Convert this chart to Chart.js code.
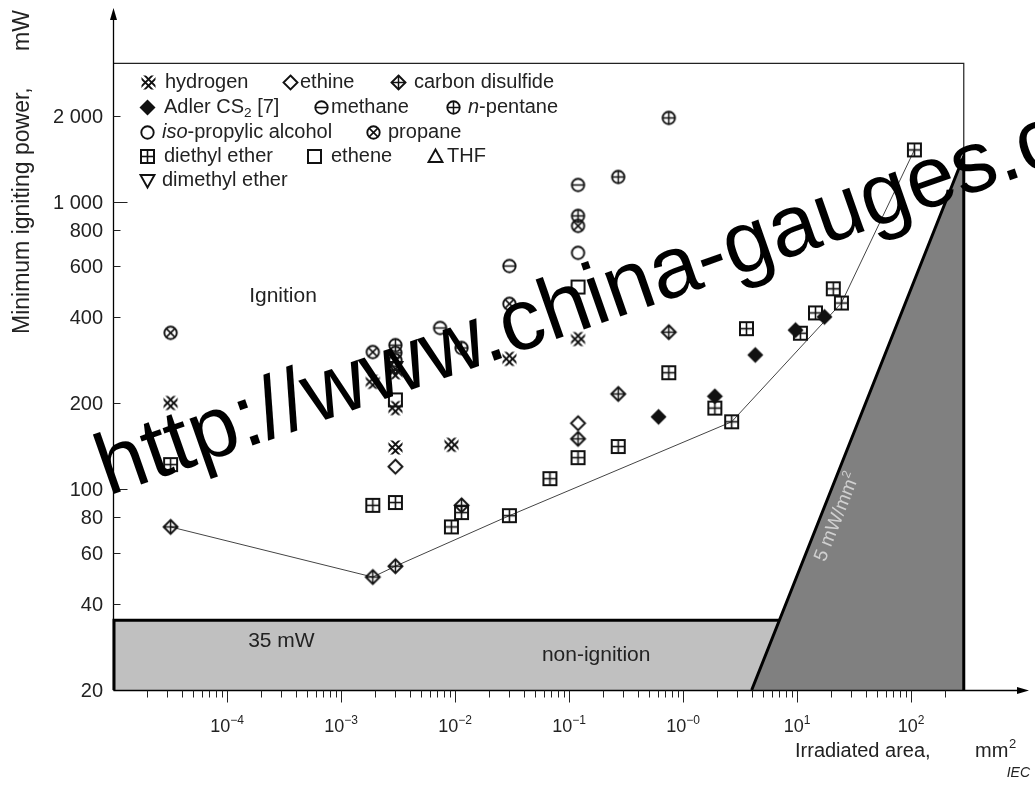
<!DOCTYPE html>
<html><head><meta charset="utf-8">
<script src="https://cdn.jsdelivr.net/npm/chart.js@4.4.1/dist/chart.umd.min.js"></script>
<style>html,body{margin:0;padding:0;background:#fff;}#wrap{position:relative;width:1035px;height:785px;}</style>
</head><body><div id="wrap"><canvas id="c" width="1035" height="785"></canvas></div>
<script>
// ---------- data (irradiated area mm², minimum igniting power mW) ----------
const yTicks = [20, 40, 60, 80, 100, 200, 400, 600, 800, 1000, 2000];
const yTickLabels = ['20', '40', '60', '80', '100', '200', '400', '600', '800', '1 000', '2 000'];
const xDecades = [-4, -3, -2, -1, 0, 1, 2];
const xTickLabels = ['\u22124', '\u22123', '\u22122', '\u22121', '\u22120', '1', '2'];
const hydrogen = [[3.2e-5,200],[1.9e-3,237],[3.0e-3,256],[3.0e-3,192],[3.0e-3,140],[9.3e-3,143],[0.030,285],[0.12,334]];
const ethine = [[3.0e-3,120],[0.12,170]];
const carbonDisulfide = [[3.2e-5,74],[1.9e-3,49.5],[3.0e-3,54],[1.14e-2,88],[0.12,150],[0.27,215],[0.75,353]];
const adlerCS2 = [[0.61,179],[1.9,211],[4.3,294],[9.7,359],[17.4,399]];
const methane = [[3.0e-3,299],[7.4e-3,365],[0.030,600],[0.12,1150]];
const nPentane = [[3.0e-3,318],[1.14e-2,311],[0.12,897],[0.27,1226],[0.75,1969]];
const isoPropylic = [[0.12,667]];
const propane = [[3.2e-5,351],[1.9e-3,301],[3.0e-3,282],[0.030,443],[0.12,828]];
const diethylEther = [[3.2e-5,122],[1.9e-3,88],[3.0e-3,90],[9.3e-3,74],[1.14e-2,83],[0.030,81],[0.068,109],[0.12,129],[0.27,141],[0.75,255],[1.9,192],[2.67,172],[3.6,363],[10.7,350],[14.5,412],[20.8,500],[24.5,446],[107,1523]];
const ethene = [[3.0e-3,205],[0.12,507]];
const thf = [[3.0e-3,272]];
const dimethylEther = [[3.0e-3,266]];
const boundary = [[3.2e-5,74],[1.9e-3,49.5],[3.0e-3,54],[0.030,81],[2.67,172],[24.5,446],[107,1523]];

// limits of the drawing
const X_MIN = 1e-5, X_MAX = 1040, Y_MIN = 20, Y_MAX = 4680;
const BOX_RIGHT = 290, BOX_TOP = 3050;
const LIMIT_POWER = 35;     // mW
const LIMIT_DENSITY = 5;    // mW/mm²

const FONT = "'Liberation Sans', Arial, Helvetica, sans-serif";

// ---------- marker images ----------
function mk(kind){
  const c = document.createElement('canvas'); c.width = 19; c.height = 19;
  const g = c.getContext('2d'); g.translate(9.5, 9.5);
  g.lineWidth = 1.9; g.strokeStyle = '#111'; g.fillStyle = '#111';
  const dia = (r)=>{g.beginPath(); g.moveTo(0,-r); g.lineTo(r,0); g.lineTo(0,r); g.lineTo(-r,0); g.closePath();};
  const circ = (r)=>{g.beginPath(); g.arc(0,0,r,0,Math.PI*2);};
  const line = (a,b,c2,d)=>{g.beginPath(); g.moveTo(a,b); g.lineTo(c2,d); g.stroke();};
  switch(kind){
    case 'dx':
      g.save(); g.beginPath(); g.rect(-7,-7,14,14); g.clip(); g.beginPath();
      for (const d of [-3.2,3.2]) { g.moveTo(-10,-10+d); g.lineTo(10,10+d); g.moveTo(-10,10+d); g.lineTo(10,-10+d); }
      g.stroke(); g.restore(); break;
    case 'diamond': dia(7); g.stroke(); break;
    case 'diamondPlus': dia(7); g.stroke(); g.lineWidth=1.5; line(0,-7,0,7); line(-7,0,7,0); break;
    case 'diamondFill': dia(8); g.fill(); break;
    case 'circleMinus': circ(6.2); g.stroke(); g.lineWidth=1.5; line(-6.2,0,6.2,0); break;
    case 'circlePlus': circ(6.2); g.stroke(); g.lineWidth=1.5; line(-6.2,0,6.2,0); line(0,-6.2,0,6.2); break;
    case 'circle': circ(6.2); g.stroke(); break;
    case 'circleX': circ(6.2); g.stroke(); g.lineWidth=1.6; line(-4.4,-4.4,4.4,4.4); line(-4.4,4.4,4.4,-4.4); break;
    case 'squarePlus': g.lineWidth=2; g.strokeRect(-6.5,-6.5,13,13); g.lineWidth=1.6; line(-6.5,0,6.5,0); line(0,-6.5,0,6.5); break;
    case 'square': g.lineWidth=2; g.strokeRect(-6.5,-6.5,13,13); break;
    case 'tri': g.beginPath(); g.moveTo(0,-7); g.lineTo(7,5.5); g.lineTo(-7,5.5); g.closePath(); g.stroke(); break;
    case 'triDown': g.beginPath(); g.moveTo(0,7); g.lineTo(7,-5.5); g.lineTo(-7,-5.5); g.closePath(); g.stroke(); break;
  }
  return c;
}

const series = [
  {label:'hydrogen', data:hydrogen, m:'dx'},
  {label:'ethine', data:ethine, m:'diamond'},
  {label:'carbon disulfide', data:carbonDisulfide, m:'diamondPlus'},
  {label:'Adler CS2 [7]', data:adlerCS2, m:'diamondFill'},
  {label:'methane', data:methane, m:'circleMinus'},
  {label:'n-pentane', data:nPentane, m:'circlePlus'},
  {label:'iso-propylic alcohol', data:isoPropylic, m:'circle'},
  {label:'propane', data:propane, m:'circleX'},
  {label:'diethyl ether', data:diethylEther, m:'squarePlus'},
  {label:'ethene', data:ethene, m:'square'},
  {label:'THF', data:thf, m:'tri'},
  {label:'dimethyl ether', data:dimethylEther, m:'triDown'}
];
const markers = {};
series.forEach(s => markers[s.label] = mk(s.m));

// legend layout: [series label, marker x, text x, row, text segments]
const legendRows = [82, 107, 132, 156, 180];
const legendItems = [
  ['hydrogen', 148, 165, 0, [{t:'hydrogen'}]],
  ['ethine', 290, 300, 0, [{t:'ethine'}]],
  ['carbon disulfide', 398, 414, 0, [{t:'carbon disulfide'}]],
  ['Adler CS2 [7]', 147, 164, 1, [{t:'Adler CS'},{t:'2',sub:true},{t:' [7]'}]],
  ['methane', 321, 331, 1, [{t:'methane'}]],
  ['n-pentane', 453, 468, 1, [{t:'n',it:true},{t:'-pentane'}]],
  ['iso-propylic alcohol', 147, 162, 2, [{t:'iso',it:true},{t:'-propylic alcohol'}]],
  ['propane', 373, 388, 2, [{t:'propane'}]],
  ['diethyl ether', 147, 164, 3, [{t:'diethyl ether'}]],
  ['ethene', 314, 331, 3, [{t:'ethene'}]],
  ['THF', 435, 447, 3, [{t:'THF'}]],
  ['dimethyl ether', 147, 162, 4, [{t:'dimethyl ether'}]]
];

function richText(ctx, segs, x, y, size){
  ctx.textBaseline = 'middle'; ctx.textAlign = 'left';
  for (const s of segs){
    const sz = s.sub ? size*0.68 : size;
    ctx.font = (s.it ? 'italic ' : '') + sz + 'px ' + FONT;
    ctx.fillText(s.t, x, s.sub ? y + size*0.3 : y);
    x += ctx.measureText(s.t).width;
  }
}

const deco = {
  id: 'deco',
  beforeDatasetsDraw(chart){
    const {ctx, scales:{x, y}, chartArea:ca} = chart;
    const X = v => x.getPixelForValue(v), Y = v => y.getPixelForValue(v);
    const xLow = LIMIT_POWER / LIMIT_DENSITY, xBase = Y_MIN / LIMIT_DENSITY;
    const topP = LIMIT_DENSITY * BOX_RIGHT;
    ctx.save();
    ctx.fillStyle = '#c0c0c0';
    ctx.beginPath(); ctx.moveTo(X(X_MIN), Y(Y_MIN)); ctx.lineTo(X(X_MIN), Y(LIMIT_POWER));
    ctx.lineTo(X(xLow), Y(LIMIT_POWER)); ctx.lineTo(X(xBase), Y(Y_MIN)); ctx.closePath(); ctx.fill();
    ctx.fillStyle = '#808080';
    ctx.beginPath(); ctx.moveTo(X(xBase), Y(Y_MIN)); ctx.lineTo(X(BOX_RIGHT), Y(topP)); ctx.lineTo(X(BOX_RIGHT), Y(Y_MIN)); ctx.closePath(); ctx.fill();
    ctx.strokeStyle = '#222'; ctx.lineWidth = 1.2;
    ctx.beginPath(); ctx.moveTo(X(X_MIN), Y(BOX_TOP)); ctx.lineTo(X(BOX_RIGHT), Y(BOX_TOP)); ctx.lineTo(X(BOX_RIGHT), Y(topP)); ctx.stroke();
    ctx.strokeStyle = '#000'; ctx.lineWidth = 3; ctx.lineCap = 'butt';
    ctx.beginPath(); ctx.moveTo(X(X_MIN)+1, Y(Y_MIN)); ctx.lineTo(X(X_MIN)+1, Y(LIMIT_POWER)); ctx.lineTo(X(xLow), Y(LIMIT_POWER)); ctx.stroke();
    ctx.beginPath(); ctx.moveTo(X(xBase), Y(Y_MIN)); ctx.lineTo(X(BOX_RIGHT), Y(topP)); ctx.lineTo(X(BOX_RIGHT), Y(Y_MIN)); ctx.stroke();
    // axes with arrows
    ctx.strokeStyle = '#000'; ctx.fillStyle = '#000'; ctx.lineWidth = 1.3;
    const x0 = Math.round(ca.left)+0.5, y0 = Math.round(ca.bottom)+0.5;
    ctx.beginPath(); ctx.moveTo(x0, y0); ctx.lineTo(x0, ca.top+6); ctx.moveTo(x0, y0); ctx.lineTo(ca.right-6, y0); ctx.stroke();
    ctx.beginPath(); ctx.moveTo(x0, ca.top-2); ctx.lineTo(x0-3.5, ca.top+10); ctx.lineTo(x0+3.5, ca.top+10); ctx.closePath(); ctx.fill();
    ctx.beginPath(); ctx.moveTo(ca.right+2, y0); ctx.lineTo(ca.right-10, y0-3.5); ctx.lineTo(ca.right-10, y0+3.5); ctx.closePath(); ctx.fill();
    // x tick marks
    ctx.lineWidth = 1; ctx.strokeStyle = '#222';
    for (let d = -5; d <= 2; d++) for (let m = 1; m <= 9; m++){
      const v = m * Math.pow(10, d);
      if (v <= X_MIN || v > BOX_RIGHT) continue;
      const px = Math.round(X(v)) + 0.5;
      ctx.beginPath(); ctx.moveTo(px, y0); ctx.lineTo(px, y0 + (m === 1 ? 12 : 7)); ctx.stroke();
    }
    // y tick marks (inside) and labels
    ctx.fillStyle = '#222'; ctx.font = '20px ' + FONT; ctx.textAlign = 'right'; ctx.textBaseline = 'middle';
    yTicks.forEach((v, i) => {
      const py = Math.round(Y(v)) + 0.5;
      if (v !== Y_MIN){ ctx.beginPath(); ctx.moveTo(x0, py); ctx.lineTo(x0 + ((v === 100 || v === 1000) ? 14 : 7), py); ctx.stroke(); }
      ctx.fillText(yTickLabels[i], 103, py + 1);
    });
    // region labels
    ctx.fillStyle = '#222'; ctx.textAlign = 'center'; ctx.textBaseline = 'middle';
    ctx.font = '21px ' + FONT;
    ctx.fillText('Ignition', X(3.1e-4), Y(472));
    ctx.fillText('35 mW', X(3.0e-4), Y(29.6));
    ctx.fillText('non-ignition', X(0.173), Y(26.5));
    const ang = Math.atan2(Y(topP) - Y(Y_MIN), X(BOX_RIGHT) - X(xBase));
    ctx.save(); ctx.translate(X(22), Y(78)); ctx.rotate(ang);
    ctx.fillStyle = '#d0d0d0'; ctx.font = '19px ' + FONT;
    ctx.fillText('5 mW/mm', 0, 0);
    const w = ctx.measureText('5 mW/mm').width;
    ctx.font = '12px ' + FONT; ctx.textAlign = 'left'; ctx.fillText('2', w/2, -7);
    ctx.restore();
    ctx.restore();
  },
  afterDraw(chart){
    const {ctx, scales:{x, y}} = chart;
    const X = v => x.getPixelForValue(v);
    ctx.save();
    ctx.fillStyle = '#222';
    xDecades.forEach((d, i) => {
      const px = X(Math.pow(10, d));
      const supTxt = xTickLabels[i];
      ctx.font = '18px ' + FONT; const w1 = ctx.measureText('10').width;
      ctx.font = '12px ' + FONT; const w2 = ctx.measureText(supTxt).width;
      const left = px - (w1 + w2) / 2;
      ctx.textAlign = 'left'; ctx.textBaseline = 'alphabetic';
      ctx.font = '18px ' + FONT; ctx.fillText('10', left, 732);
      ctx.font = '12px ' + FONT; ctx.fillText(supTxt, left + w1, 724);
    });
    ctx.font = '20px ' + FONT; ctx.textAlign = 'left'; ctx.textBaseline = 'alphabetic';
    ctx.fillText('Irradiated area,', 795, 757);
    ctx.fillText('mm', 975, 757);
    ctx.font = '13px ' + FONT; ctx.fillText('2', 1009, 748);
    ctx.font = 'italic 14px ' + FONT; ctx.textAlign = 'right'; ctx.fillText('IEC', 1030, 777);
    ctx.save(); ctx.translate(29, 334); ctx.rotate(-Math.PI/2);
    ctx.font = '23px ' + FONT; ctx.textAlign = 'left'; ctx.fillText('Minimum igniting power,', 0, 0);
    ctx.fillText('mW', 283, 0);
    ctx.restore();
    for (const [lab, mx, tx, row, segs] of legendItems){
      const ry = legendRows[row];
      const img = markers[lab];
      ctx.drawImage(img, Math.round(mx - img.width/2), Math.round(ry - img.height/2));
      richText(ctx, segs, tx, ry, 20);
    }
    // watermark
    ctx.save(); ctx.translate(108, 496); ctx.rotate(-19.3 * Math.PI/180);
    ctx.fillStyle = '#000'; ctx.font = '87px ' + FONT; ctx.textAlign = 'left'; ctx.textBaseline = 'alphabetic';
    ctx.fillText('http://www.china-gauges.com', 0, 0);
    ctx.restore();
    ctx.restore();
  }
};

const datasets = series.map(s => ({
  label: s.label,
  data: s.data.map(([a, b]) => ({x: a, y: b})),
  pointStyle: markers[s.label],
  pointRadius: 7, pointHoverRadius: 7,
  showLine: false, order: 1
}));
datasets.push({
  label: 'boundary', data: boundary.map(([a, b]) => ({x: a, y: b})),
  showLine: true, pointRadius: 0, borderColor: '#444', borderWidth: 1, order: 5
});

new Chart(document.getElementById('c'), {
  type: 'scatter',
  data: {datasets},
  options: {
    responsive: false, animation: false, devicePixelRatio: 1,
    layout: {padding: {top: 10, right: 5, left: 0, bottom: 0}},
    plugins: {legend: {display: false}, tooltip: {enabled: false}},
    scales: {
      x: {type: 'logarithmic', min: X_MIN, max: X_MAX, position: 'bottom',
          grid: {display: false}, border: {display: false}, ticks: {display: false},
          afterFit: s => { s.height = 95; }},
      y: {type: 'logarithmic', min: Y_MIN, max: Y_MAX, position: 'left',
          grid: {display: false}, border: {display: false}, ticks: {display: false},
          afterFit: s => { s.width = 113; }}
    }
  },
  plugins: [deco]
});
</script></body></html>
